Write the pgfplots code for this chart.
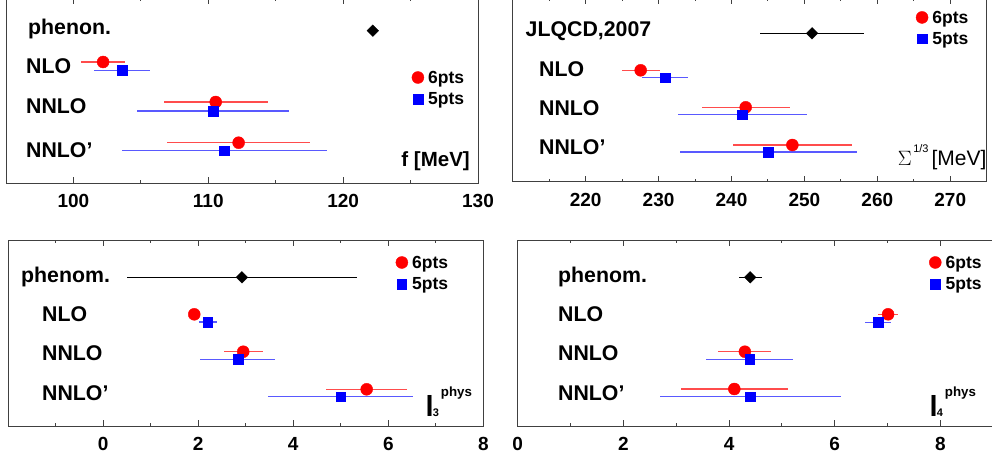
\documentclass[border=0pt]{standalone}
\usepackage{fontspec}
\setmainfont{Liberation Sans}
\usepackage{pgfplots}
\pgfplotsset{compat=1.18}
\pgfplotsset{
  panel/.style={
    scale only axis, anchor=south west, y dir=reverse,
    axis line style={black!75, line width=0.9pt},
    tick style={black!75, line width=0.9pt},
    tick align=inside, major tick length=6pt, minor tick length=3pt,
    ytick=\empty, xtick pos=both, xticklabel pos=lower,
    /pgf/number format/assume math mode=true,
    xticklabel style={font=\bfseries\fontsize{19}{19}\selectfont, anchor=base, yshift=-24.5pt},
    clip=false,
    legend style={draw=none, fill=none, inner sep=0pt, outer sep=0pt, anchor=north west,
      font=\bfseries\fontsize{17.5}{17.5}\selectfont, row sep=9.3pt, column sep=4.3pt,
      nodes={inner sep=0pt, text depth=0pt}},
    legend cell align=left,
    legend image code/.code={\draw[##1] plot coordinates {(0pt,0pt)};},
  },
  redpts/.style={only marks, mark=*, mark size=6pt, color=red, mark options={fill=red, draw=red},
     error bars/.cd, x dir=both, x explicit, error mark=none, error bar style={line width=1.4pt, red!70}},
  bluepts/.style={only marks, mark=square*, mark size=4.8pt, color=blue, mark options={fill=blue, draw=blue},
     error bars/.cd, x dir=both, x explicit, error mark=none, error bar style={line width=1.4pt, blue!65}},
  blackpts/.style={only marks, mark=square*, mark size=4.1pt, color=black, mark options={fill=black, draw=black, rotate=45},
     forget plot, error bars/.cd, x dir=both, x explicit, error mark=none, error bar style={line width=1.1pt, black}},
}
\tikzset{
  lab/.style={anchor=base west, inner sep=0pt, font=\bfseries\fontsize{21.3}{21.3}\selectfont},
}
\newcommand{\lphys}[1]{{\bfseries\fontsize{29}{29}\selectfont l\fontsize{11}{11}\selectfont\kern-0.8pt #1\kern1.8pt\raisebox{20.5pt}{\fontsize{13.3}{13.3}\selectfont phys}}}
\begin{document}
\begin{tikzpicture}[x=1pt,y=1pt]
\useasboundingbox (0,0) rectangle (992,461);

% ---------- panel 1: f [MeV]
\begin{axis}[panel, at={(6pt,278pt)}, width=472pt, height=184.5pt,
  xmin=95, xmax=130, ymin=-1.5, ymax=183,
  xtick={100,110,120,130}, minor xtick={105,115,125},
  legend style={at={(0.860,0.605)}}]
\addplot+[blackpts] coordinates {(122.2,30.7) +- (0,0)};
\addplot+[redpts] coordinates {(102.2,62) +- (1.65,0) (110.55,102) +- (3.85,0) (112.25,142.7) +- (5.3,0)};
\addlegendentry{6pts}
\addplot+[bluepts] coordinates {(103.6,70.3) +- (2.05,0) (110.35,111) +- (5.6,0) (111.2,150.7) +- (7.6,0)};
\addlegendentry{5pts}
\end{axis}
\node[lab] at (28,426.7) {phenon.};
\node[lab] at (26,387) {NLO};
\node[lab] at (26,347.8) {NNLO};
\node[lab] at (26,303.2) {NNLO’};
\node[anchor=base east, inner sep=0pt, font=\bfseries\fontsize{20.5}{20.5}\selectfont] at (470,294) {f [MeV]};

% ---------- panel 2: Sigma^{1/3}
\begin{axis}[panel, at={(512.7pt,279.3pt)}, width=474pt, height=183.2pt,
  xmin=210, xmax=275, ymin=-1.5, ymax=181.7,
  xtick={220,230,240,250,260,270}, minor xtick={215,225,235,245,255,265,275},
  legend style={at={(0.851,0.930)}}]
\addplot+[blackpts] coordinates {(251.05,33.3) +- (7.1,0)};
\addplot+[redpts] coordinates {(227.55,70.3) +- (2.6,0) (241.95,107.3) +- (6.05,0) (248.35,145) +- (8.2,0)};
\addlegendentry{6pts}
\addplot+[bluepts] coordinates {(230.9,77.7) +- (3.2,0) (241.45,114.7) +- (8.85,0) (245.05,152) +- (12.1,0)};
\addlegendentry{5pts}
\end{axis}
\node[lab] at (525.5,424.3) {JLQCD,2007};
\node[lab] at (539,384.3) {NLO};
\node[lab] at (539,345) {NNLO};
\node[lab] at (539,306) {NNLO’};
\node[anchor=base west, inner sep=0pt, font=\fontsize{21}{21}\selectfont] at (897.7,295.3)
  {$\Sigma$\hspace{1.5pt}\raisebox{13pt}{\fontsize{11}{11}\selectfont 1/3}\hspace{3pt}[MeV]};

% ---------- panel 3: l3
\begin{axis}[panel, at={(8.2pt,35pt)}, width=475.1pt, height=186pt,
  xmin=-2, xmax=8, ymin=240, ymax=426,
  xtick={0,2,4,6,8}, minor xtick={-1,1,3,5,7},
  legend style={at={(0.816,0.912)}}]
\addplot+[blackpts] coordinates {(2.92,277.3) +- (2.415,0)};
\addplot+[redpts] coordinates {(1.916,314.3) +- (0.1,0) (2.947,351.7) +- (0.415,0) (5.545,389.3) +- (0.85,0)};
\addlegendentry{6pts}
\addplot+[bluepts] coordinates {(2.198,322) +- (0.19,0) (2.836,359.3) +- (0.79,0) (4.998,396.7) +- (1.52,0)};
\addlegendentry{5pts}
\end{axis}
\node[lab] at (21,178.3) {phenom.};
\node[lab] at (42,139.3) {NLO};
\node[lab] at (42,101) {NNLO};
\node[lab] at (42,61) {NNLO’};
\node[anchor=base west, inner sep=0pt] at (425.5,44.3) {\lphys{3}};

% ---------- panel 4: l4
\begin{axis}[panel, at={(517.7pt,35pt)}, width=475.5pt, height=186pt,
  xmin=0, xmax=9, ymin=240, ymax=426,
  xtick={0,2,4,6,8}, minor xtick={1,3,5,7,9},
  legend style={at={(0.8656,0.912)}}]
\addplot+[blackpts] coordinates {(4.40,277.3) +- (0.215,0)};
\addplot+[redpts] coordinates {(7.01,314.3) +- (0.19,0) (4.30,351.7) +- (0.5,0) (4.10,389) +- (1.015,0)};
\addlegendentry{6pts}
\addplot+[bluepts] coordinates {(6.82,322.3) +- (0.25,0) (4.39,359.3) +- (0.83,0) (4.40,396.7) +- (1.715,0)};
\addlegendentry{5pts}
\end{axis}
\node[lab] at (558,178.3) {phenom.};
\node[lab] at (558,139.3) {NLO};
\node[lab] at (558,100.3) {NNLO};
\node[lab] at (558,60.3) {NNLO’};
\node[anchor=base west, inner sep=0pt] at (929.5,44.3) {\lphys{4}};
\end{tikzpicture}
\end{document}
